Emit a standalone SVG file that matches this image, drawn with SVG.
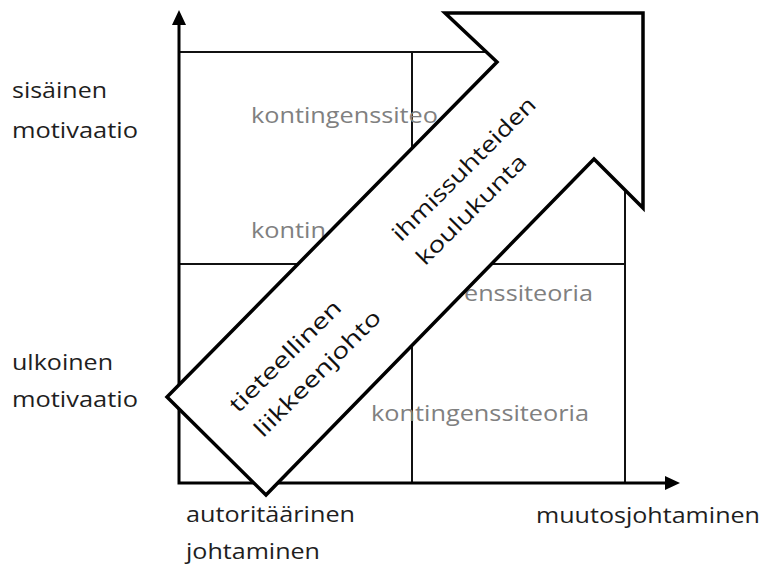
<svg xmlns="http://www.w3.org/2000/svg" width="764" height="566" viewBox="0 0 764 566">
  <style>
    text { font-family: "Open Sans", Lato, "Liberation Sans", sans-serif; }
    .lbl { font-size: 22px; fill: #1e1e1e; }
    .grey { font-size: 22px; fill: #808080; }
    .rot { font-size: 22px; fill: #111111; }
    .axis { fill: none; stroke: #000000; stroke-width: 3; stroke-linejoin: miter; }
    .grid { fill: none; stroke: #111111; stroke-width: 2; }
    .big-arrow { fill: #ffffff; stroke: #000000; stroke-width: 3.5; stroke-linejoin: miter; }
  </style>
  <defs>
    <marker id="axis-head" viewBox="0 0 15 14" markerWidth="15" markerHeight="14" refX="0" refY="7" orient="auto-start-reverse" markerUnits="userSpaceOnUse">
      <path d="M0,0 L15,7 L0,14 z" fill="#000000"/>
    </marker>
  </defs>

  <rect width="764" height="566" fill="#ffffff"/>

  <!-- axes and field grid -->
  <g id="connectors">
    <rect class="grid" x="179" y="52" width="446" height="431"/>
    <line class="grid" x1="412" y1="52" x2="412" y2="483"/>
    <line class="grid" x1="179" y1="264" x2="625" y2="264"/>
    <path class="axis" d="M179,25 V483 H665" marker-start="url(#axis-head)" marker-end="url(#axis-head)"/>
  </g>

  <!-- theory labels inside the field -->
  <g id="cell-top-left-a">
    <text class="grey" x="251" y="123" textLength="187" lengthAdjust="spacingAndGlyphs">kontingenssiteo</text>
  </g>
  <g id="cell-top-left-b">
    <text class="grey" x="251" y="238" textLength="75" lengthAdjust="spacingAndGlyphs">kontin</text>
  </g>
  <g id="cell-bottom-right-a">
    <text class="grey" x="464" y="301" textLength="129" lengthAdjust="spacingAndGlyphs">enssiteoria</text>
  </g>
  <g id="cell-bottom-right-b">
    <text class="grey" x="371" y="421" textLength="218" lengthAdjust="spacingAndGlyphs">kontingenssiteoria</text>
  </g>

  <!-- development arrow -->
  <g id="development-arrow">
    <polygon class="big-arrow" points="167,397 497,62 445,13 643,13 643,208 594,159 266,495"/>
    <text class="rot" transform="translate(238.3,413.7) rotate(-45)">
      <tspan x="0" y="0" textLength="148" lengthAdjust="spacingAndGlyphs">tieteellinen</tspan>
      <tspan x="0" y="35" textLength="169" lengthAdjust="spacingAndGlyphs">liikkeenjohto</tspan>
    </text>
    <text class="rot" transform="translate(400.9,242.5) rotate(-45)">
      <tspan x="0" y="0" textLength="193" lengthAdjust="spacingAndGlyphs">ihmissuhteiden</tspan>
      <tspan x="0" y="34" textLength="146" lengthAdjust="spacingAndGlyphs">koulukunta</tspan>
    </text>
  </g>

  <!-- vertical axis labels -->
  <g id="label-inner-motivation">
    <text class="lbl" x="12" y="98" textLength="95" lengthAdjust="spacingAndGlyphs">sisäinen</text>
    <text class="lbl" x="12" y="138" textLength="126" lengthAdjust="spacingAndGlyphs">motivaatio</text>
  </g>
  <g id="label-outer-motivation">
    <text class="lbl" x="12" y="370" textLength="101" lengthAdjust="spacingAndGlyphs">ulkoinen</text>
    <text class="lbl" x="12" y="407" textLength="126" lengthAdjust="spacingAndGlyphs">motivaatio</text>
  </g>

  <!-- horizontal axis labels -->
  <g id="label-authoritarian">
    <text class="lbl" x="186" y="522" textLength="169" lengthAdjust="spacingAndGlyphs">autoritäärinen</text>
    <text class="lbl" x="186" y="559" textLength="134" lengthAdjust="spacingAndGlyphs">johtaminen</text>
  </g>
  <g id="label-change">
    <text class="lbl" x="536" y="523" textLength="224" lengthAdjust="spacingAndGlyphs">muutosjohtaminen</text>
  </g>
</svg>
